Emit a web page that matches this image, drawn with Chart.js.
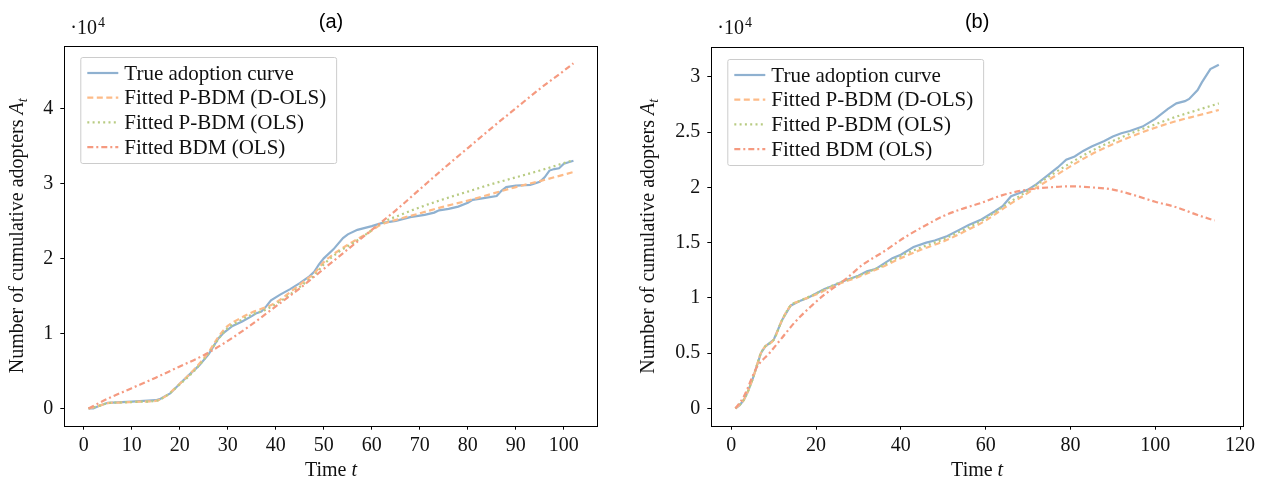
<!DOCTYPE html>
<html>
<head>
<meta charset="utf-8">
<script src="https://cdn.jsdelivr.net/npm/chart.js@4.4.0/dist/chart.umd.min.js"></script>
<style>
  html, body { margin:0; padding:0; background:#fff; }
  #wrap { position:relative; width:1263px; height:482px; }
  .panel { position:absolute; top:0; height:482px; }
  #panelA { left:0; width:631px; }
  #panelB { left:631px; width:632px; }
</style>
</head>
<body>
<div id="wrap">
  <div class="panel" id="panelA"><canvas id="chartA" width="631" height="482"></canvas></div>
  <div class="panel" id="panelB"><canvas id="chartB" width="632" height="482"></canvas></div>
</div>
<script>
// series names (legend)
const seriesLabels = ["True adoption curve", "Fitted P-BDM (D-OLS)", "Fitted P-BDM (OLS)", "Fitted BDM (OLS)"];
const seriesColors = ["#8fb1d0", "#fdbb88", "#b8cb82", "#f59a80"];

// ---- panel (a), values in units of 10^4 ----
const timeTrueA = [1,2,3,5,10,15,16,18,20,22,24,26,28,29,31,33,35,36,37,38,39,41,43,45,47,48,49,50,52,54,55,57,60,62,65,68,71,73,74,76,78,80,81,83,86,87,88,90,93,95,96,97,98,99,100,102];
const trueA = [0,0,0.03,0.075,0.09,0.11,0.13,0.2,0.33,0.45,0.57,0.72,0.93,1.0,1.1,1.16,1.23,1.27,1.29,1.36,1.44,1.52,1.59,1.67,1.76,1.82,1.92,2.0,2.12,2.27,2.32,2.38,2.43,2.47,2.5,2.55,2.58,2.61,2.64,2.66,2.69,2.74,2.78,2.8,2.83,2.9,2.95,2.97,2.98,3.02,3.08,3.17,3.19,3.2,3.26,3.3];
const timeFitA = [1,3,5,8,12,15,17,20,23,26,28,30,32,35,38,40,43,46,48,50,53,56,59,62,66,70,75,80,85,90,95,102];
const dolsA = [0,0.03,0.07,0.08,0.09,0.1,0.16,0.33,0.52,0.75,0.95,1.1,1.18,1.28,1.35,1.41,1.55,1.7,1.8,1.95,2.1,2.22,2.33,2.45,2.53,2.6,2.69,2.77,2.86,2.95,3.03,3.15];
const olsA = [0,0.03,0.07,0.08,0.09,0.1,0.16,0.32,0.5,0.73,0.92,1.07,1.15,1.25,1.32,1.39,1.52,1.67,1.77,1.92,2.08,2.2,2.33,2.47,2.58,2.68,2.79,2.89,2.99,3.08,3.17,3.31];
const timeBdmA = [1,5,10,15,20,25,30,35,40,45,50,55,60,65,70,75,80,85,90,95,100,102];
const bdmA = [0,0.13,0.27,0.41,0.56,0.71,0.9,1.12,1.36,1.6,1.86,2.12,2.38,2.64,2.92,3.2,3.47,3.74,4.0,4.26,4.5,4.6];
const xTicksA = [0,10,20,30,40,50,60,70,80,90,100];
const yTicksA = [0,1,2,3,4];

// ---- panel (b), values in units of 10^4 ----
const timeTrueB = [1,2,3,4,5,6,7,8,10,12,14,16,18,20,22,24,27,30,32,34,36,38,40,43,46,48,51,54,56,59,62,64,66,68,70,72,75,77,79,81,83,85,88,90,92,94,97,100,103,105,107,108,110,111,113,115];
const trueB = [0,0.03,0.08,0.16,0.26,0.38,0.5,0.56,0.62,0.8,0.93,0.97,1.0,1.04,1.08,1.11,1.16,1.2,1.24,1.26,1.31,1.36,1.39,1.46,1.5,1.52,1.56,1.62,1.66,1.71,1.78,1.83,1.92,1.95,1.98,2.03,2.12,2.18,2.25,2.28,2.33,2.37,2.42,2.46,2.49,2.51,2.55,2.62,2.71,2.76,2.78,2.8,2.88,2.95,3.07,3.11];
const timeFitB = [1,3,5,7,8,10,12,14,16,20,25,30,35,40,45,50,55,60,65,70,75,80,85,90,95,100,105,110,115];
const dolsB = [0,0.08,0.26,0.5,0.56,0.62,0.8,0.93,0.97,1.03,1.12,1.19,1.27,1.36,1.44,1.51,1.6,1.7,1.83,1.95,2.07,2.19,2.3,2.39,2.47,2.54,2.6,2.65,2.7];
const olsB = [0,0.08,0.26,0.5,0.56,0.62,0.8,0.93,0.97,1.04,1.13,1.2,1.28,1.38,1.46,1.53,1.62,1.72,1.85,1.97,2.1,2.22,2.33,2.42,2.5,2.57,2.64,2.7,2.76];
const timeBdmB = [1,3,6,9,12,15,19,22,27,31,36,41,46,50,54,59,64,70,75,80,85,90,95,100,105,110,114];
const bdmB = [0,0.11,0.37,0.5,0.64,0.78,0.93,1.03,1.17,1.3,1.42,1.55,1.66,1.74,1.8,1.86,1.93,1.98,2.0,2.01,2.0,1.98,1.93,1.87,1.82,1.75,1.7];
const xTicksB = [0,20,40,60,80,100,120];
const yTicksB = [0,0.5,1,1.5,2,2.5,3];

const serif = '"Liberation Serif", "Times New Roman", serif';
const dashes = [[], [6,3.5], [2,3.3], [6,3,2,3]];

function toPoints(ts, ys) {
    let pts = [];
    for (let i = 0; i < ts.length; i++) pts.push({x: ts[i], y: ys[i]});
    return pts;
}

// frame, legend, titles and the 10^4 offset label
const decor = {
    id: 'decor',
    afterDraw(chart, args, opt) {
        const ctx = chart.ctx;
        const ca = chart.chartArea;
        ctx.save();

        // frame
        ctx.strokeStyle = '#000';
        ctx.lineWidth = 1;
        ctx.strokeRect(Math.round(ca.left) + 0.5, Math.round(ca.top) + 0.5,
            Math.round(ca.right - ca.left), Math.round(ca.bottom - ca.top));

        // legend
        ctx.font = '21px ' + serif;
        let maxW = 0;
        seriesLabels.forEach(l => { maxW = Math.max(maxW, ctx.measureText(l).width); });
        const lx = ca.left + 16, ly = ca.top + opt.legendDy;
        const lw = 44 + maxW + 10, lh = 106;
        ctx.fillStyle = 'rgba(255,255,255,0.8)';
        ctx.strokeStyle = '#cccccc';
        ctx.beginPath();
        ctx.roundRect(lx + 0.5, ly + 0.5, lw, lh, 2);
        ctx.fill();
        ctx.stroke();
        seriesLabels.forEach((l, i) => {
            const ry = ly + 16 + i * 24.7;
            ctx.strokeStyle = seriesColors[i];
            ctx.lineWidth = 2.2;
            ctx.setLineDash(dashes[i]);
            ctx.beginPath();
            ctx.moveTo(lx + 7, ry);
            ctx.lineTo(lx + 38, ry);
            ctx.stroke();
            ctx.setLineDash([]);
            ctx.fillStyle = '#111';
            ctx.textAlign = 'left';
            ctx.textBaseline = 'middle';
            ctx.fillText(l, lx + 44, ry + 1);
        });

        // panel title
        ctx.fillStyle = '#000';
        ctx.font = '20px "Liberation Sans", Arial, sans-serif';
        ctx.textAlign = 'center';
        ctx.textBaseline = 'alphabetic';
        ctx.fillText(opt.title, (ca.left + ca.right) / 2, 28);

        // offset label  ·10^4
        ctx.fillStyle = '#111';
        ctx.font = '20px ' + serif;
        ctx.textAlign = 'left';
        const ox = ca.left + 6;
        ctx.fillText('\u00b710', ox, 34);
        const w10 = ctx.measureText('\u00b710').width;
        ctx.font = '14px ' + serif;
        ctx.fillText('4', ox + w10 + 1, 27);

        // x axis title: Time t
        ctx.font = '20px ' + serif;
        const p1 = 'Time ';
        const w1 = ctx.measureText(p1).width;
        ctx.font = 'italic 20px ' + serif;
        const w2 = ctx.measureText('t').width;
        let sx = (ca.left + ca.right) / 2 - (w1 + w2) / 2;
        ctx.font = '20px ' + serif;
        ctx.fillText(p1, sx, 476);
        ctx.font = 'italic 20px ' + serif;
        ctx.fillText('t', sx + w1, 476);

        // y axis title: Number of cumulative adopters A_t
        ctx.translate(opt.yTitleX, (ca.top + ca.bottom) / 2);
        ctx.rotate(-Math.PI / 2);
        const q1 = 'Number of cumulative adopters ';
        ctx.font = '20px ' + serif;
        const v1 = ctx.measureText(q1).width;
        ctx.font = 'italic 20px ' + serif;
        const v2 = ctx.measureText('A').width;
        ctx.font = 'italic 14px ' + serif;
        const v3 = ctx.measureText('t').width;
        let tx = -(v1 + v2 + v3) / 2;
        ctx.textBaseline = 'middle';
        ctx.font = '20px ' + serif;
        ctx.fillText(q1, tx, 0);
        ctx.font = 'italic 20px ' + serif;
        ctx.fillText('A', tx + v1, 0);
        ctx.font = 'italic 14px ' + serif;
        ctx.fillText('t', tx + v1 + v2, 5);

        ctx.restore();
    }
};

function makePanel(canvasId, p) {
    const sets = [
        toPoints(p.tTrue, p.yTrue),
        toPoints(p.tFit, p.yDols),
        toPoints(p.tFit, p.yOls),
        toPoints(p.tBdm, p.yBdm)
    ];
    const datasets = sets.map((d, i) => ({
        label: seriesLabels[i],
        data: d,
        borderColor: seriesColors[i],
        backgroundColor: seriesColors[i],
        borderWidth: 2.2,
        borderDash: dashes[i],
        pointRadius: 0,
        fill: false,
        tension: 0,
        cubicInterpolationMode: i == 0 ? 'default' : 'monotone',
        order: 4 - i
    }));
    const tickFont = {family: serif, size: 20};
    return new Chart(document.getElementById(canvasId), {
        type: 'line',
        data: {datasets: datasets},
        options: {
            responsive: false,
            animation: false,
            layout: {padding: {left: 0, right: p.padRight, top: p.padTop, bottom: 0}},
            plugins: {
                legend: {display: false},
                tooltip: {enabled: false},
                decor: {title: p.title, yTitleX: 18, legendDy: p.legendDy}
            },
            scales: {
                x: {
                    type: 'linear',
                    min: p.xMin, max: p.xMax,
                    afterBuildTicks: s => { s.ticks = p.xTicks.map(v => ({value: v})); },
                    afterFit: s => { s.height = 56.3; },
                    ticks: {font: tickFont, color: '#111', padding: 4, maxRotation: 0, autoSkip: false,
                        callback: v => String(v)},
                    grid: {drawOnChartArea: false, drawTicks: true, tickLength: 4, color: '#000'},
                    border: {display: false}
                },
                y: {
                    type: 'linear',
                    min: p.yMin, max: p.yMax,
                    afterBuildTicks: s => { s.ticks = p.yTicks.map(v => ({value: v})); },
                    afterFit: s => { s.width = p.yWidth; },
                    ticks: {font: tickFont, color: '#111', padding: 7, autoSkip: false,
                        callback: v => String(v)},
                    grid: {drawOnChartArea: false, drawTicks: true, tickLength: 4, color: '#000'},
                    border: {display: false}
                }
            }
        },
        plugins: [decor]
    });
}

makePanel('chartA', {
    title: '(a)',
    tTrue: timeTrueA, yTrue: trueA,
    tFit: timeFitA, yDols: dolsA, yOls: olsA,
    tBdm: timeBdmA, yBdm: bdmA,
    xTicks: xTicksA, yTicks: yTicksA,
    xMin: -4.05, xMax: 107.05, yMin: -0.23, yMax: 4.83,
    padTop: 46, padRight: 33.3, yWidth: 64.3, legendDy: 11
});

makePanel('chartB', {
    title: '(b)',
    tTrue: timeTrueB, yTrue: trueB,
    tFit: timeFitB, yDols: dolsB, yOls: olsB,
    tBdm: timeBdmB, yBdm: bdmB,
    xTicks: xTicksB, yTicks: yTicksB,
    xMin: -4.7, xMax: 120.7, yMin: -0.156, yMax: 3.27,
    padTop: 47, padRight: 20, yWidth: 80.3, legendDy: 12
});
</script>
</body>
</html>
